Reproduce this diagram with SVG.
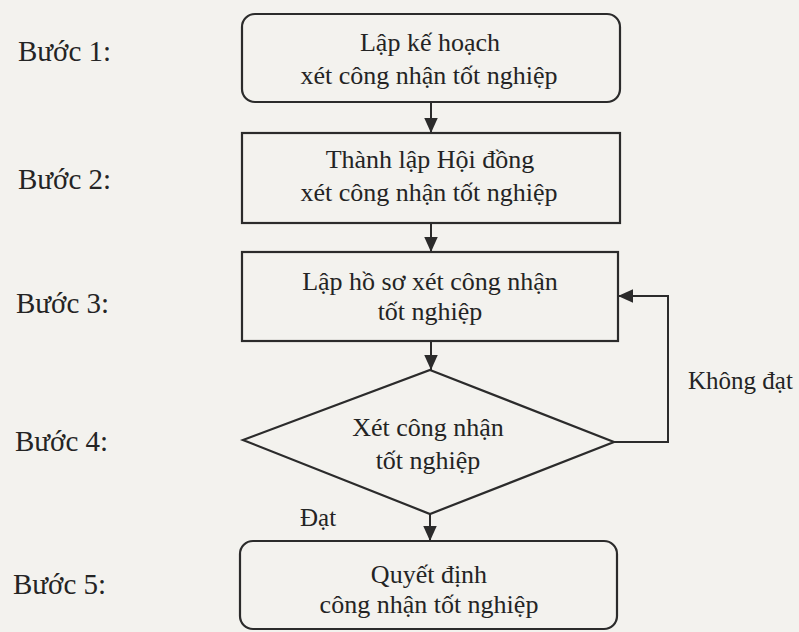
<svg xmlns="http://www.w3.org/2000/svg" width="799" height="632" viewBox="0 0 799 632">
<defs>
<style>
.t{font-family:"Liberation Serif","Times New Roman",serif;fill:#242424}
.n{font-size:26px;text-anchor:middle}
.s{font-size:29px}
.l{font-size:25px}
.b{fill:none;stroke:#2b2b2b;stroke-width:2.2}
.c{fill:none;stroke:#2b2b2b;stroke-width:2}
</style>
<marker id="ah" viewBox="0 0 10 10" refX="10" refY="5" markerWidth="15" markerHeight="15" markerUnits="userSpaceOnUse" orient="auto">
<path d="M0,0.5 L10,5 L0,9.5 Z" fill="#2b2b2b"/>
</marker>
</defs>
<rect width="799" height="632" fill="#f3f2ee"/>
<g id="steps" class="t s">
<text x="18" y="61">Bước 1:</text>
<text x="18" y="189">Bước 2:</text>
<text x="16" y="313">Bước 3:</text>
<text x="15" y="451">Bước 4:</text>
<text x="13" y="594">Bước 5:</text>
</g>
<g id="connectors">
<line class="c" x1="431" y1="102" x2="431" y2="133" marker-end="url(#ah)"/>
<line class="c" x1="431" y1="223" x2="431" y2="252" marker-end="url(#ah)"/>
<line class="c" x1="431" y1="341" x2="431" y2="370" marker-end="url(#ah)"/>
<line class="c" x1="430" y1="514" x2="430" y2="541" marker-end="url(#ah)"/>
<polyline class="c" points="614,442 668,442 668,296 618,296" marker-end="url(#ah)"/>
</g>
<g id="n1">
<rect class="b" x="242" y="14" width="378" height="88" rx="13"/>
<text class="t n" x="430" y="51">Lập kế hoạch</text>
<text class="t n" x="429" y="84">xét công nhận tốt nghiệp</text>
</g>
<g id="n2">
<rect class="b" x="242" y="133" width="378" height="90"/>
<text class="t n" x="430" y="168">Thành lập Hội đồng</text>
<text class="t n" x="429" y="201">xét công nhận tốt nghiệp</text>
</g>
<g id="n3">
<rect class="b" x="242" y="252" width="376" height="89"/>
<text class="t n" x="430" y="290">Lập hồ sơ xét công nhận</text>
<text class="t n" x="430" y="320">tốt nghiệp</text>
</g>
<g id="n4">
<polygon class="b" points="430,370 614,442 430,514 243,440"/>
<text class="t n" x="428" y="436">Xét công nhận</text>
<text class="t n" x="428" y="469">tốt nghiệp</text>
</g>
<g id="n5">
<rect class="b" x="240" y="541" width="377" height="88" rx="13"/>
<text class="t n" x="429" y="583">Quyết định</text>
<text class="t n" x="429" y="613">công nhận tốt nghiệp</text>
</g>
<g id="labels" class="t l">
<text x="300" y="526">Đạt</text>
<text x="688" y="389">Không đạt</text>
</g>
</svg>
